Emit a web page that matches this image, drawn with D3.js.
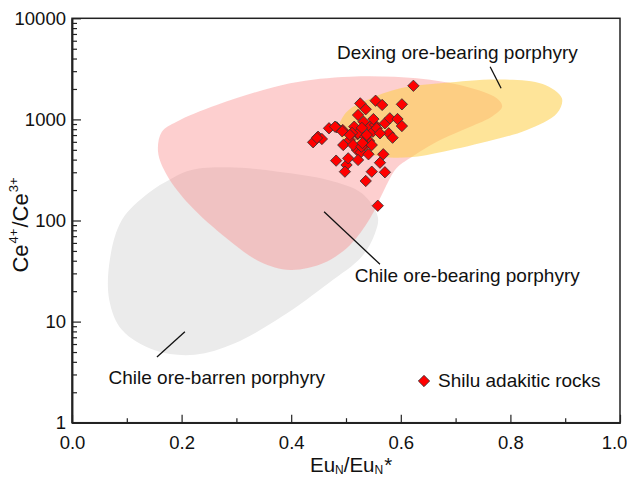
<!DOCTYPE html>
<html><head><meta charset="utf-8">
<script src="https://cdn.jsdelivr.net/npm/d3@7"></script>
<style>
html,body{margin:0;padding:0;background:#fff;}
text{font-family:"Liberation Sans",Arial,Helvetica,sans-serif;fill:#111;}
</style></head>
<body>
<svg id="chart" width="627" height="478"></svg>
<script>
// ---- data ----
const xTicks = [0.0, 0.2, 0.4, 0.6, 0.8, 1.0];
const xMinorTicks = [0.1, 0.3, 0.5, 0.7, 0.9];
const yTicks = [1, 10, 100, 1000, 10000];
const yMinorTicks = [2,3,4,5,6,7,8,9,20,30,40,50,60,70,80,90,200,300,400,500,600,700,800,900,2000,3000,4000,5000,6000,7000,8000,9000];

// Shilu adakitic rocks: Eu_N/Eu_N* and Ce4+/Ce3+
const euRatio = [0.623,0.526,0.536,0.554,0.566,0.602,0.522,0.469,0.449,0.440,0.456,0.494,0.495,0.507,0.515,0.521,0.532,0.544,0.553,0.549,0.542,0.535,0.520,0.527,0.541,0.571,0.580,0.594,0.602,0.578,0.585,0.568,0.562,0.571,0.547,0.536,0.482,0.501,0.498,0.504,0.558,0.522,0.535,0.513,0.528,0.556,0.483,0.493,0.550,0.529,0.538,0.511,0.547,0.522,0.530,0.447,0.480,0.507,0.562];
const ceRatio = [2150,1440,1260,1530,1390,1410,1105,817,674,594,640,785,558,626,847,713,949,847,881,756,611,558,498,473,452,915,1025,1009,860,729,659,452,373,300,304,246,391,354,304,412,140,729,674,558,537,817,835,763,1007,824,702,735,558,397,584,655,847,702,728];

// Field outlines (Eu_N/Eu_N*, Ce4+/Ce3+)
const barrenField = [[0.218,316],[0.285,336],[0.376,304],[0.467,252],[0.529,186],[0.558,109],[0.553,75],[0.529,44],[0.468,24],[0.383,11.2],[0.297,6.1],[0.224,4.7],[0.151,5.2],[0.091,8.3],[0.068,16.4],[0.069,40.6],[0.091,101],[0.139,186],[0.182,261]];
const chileBearingField = [[0.164,755],[0.191,949],[0.264,1388],[0.398,2275],[0.507,2645],[0.629,2550],[0.720,2105],[0.775,1618],[0.785,1342],[0.768,1081],[0.726,841],[0.672,625],[0.617,415],[0.592,328],[0.568,193],[0.544,105],[0.507,57],[0.458,37.7],[0.398,32.4],[0.343,39.1],[0.282,66.7],[0.215,142],[0.173,282],[0.157,479]];
const dexingField = [[0.486,785],[0.501,1183],[0.538,1556],[0.599,2032],[0.677,2290],[0.781,2483],[0.859,2239],[0.894,1618],[0.885,1149],[0.830,785],[0.768,625],[0.677,480],[0.617,422],[0.568,425],[0.538,465],[0.501,584]];

const labels = [
  {text:"Dexing ore-bearing porphyry", at:[0.4836,4000], line:[[0.763,3320],[0.783,2032]]},
  {text:"Chile ore-bearing porphyry", at:[0.516,24.9], line:[[0.460,122],[0.562,36.9]]},
  {text:"Chile ore-barren porphyry", at:[0.0666,2.44], line:[[0.206,7.94],[0.155,4.47]]}
];
const legendLabel = "Shilu adakitic rocks";

// ---- layout ----
const L = 72, R = 620, T = 18.3, B = 422.7;
const svg = d3.select("#chart");
const x = d3.scaleLinear().domain([0,1]).range([L,R]);
const y = d3.scaleLog().domain([1,10000]).range([B,T]);

// fields
const area = d3.line().x(d=>x(d[0])).y(d=>y(d[1])).curve(d3.curveCatmullRomClosed.alpha(0.5));
svg.append("path").attr("d", area(barrenField)).attr("fill","#ebebeb");
svg.append("path").attr("d", area(chileBearingField)).attr("fill","rgba(250,130,130,0.38)");
svg.append("path").attr("d", area(dexingField)).attr("fill","rgba(253,205,70,0.55)");

// label lines and texts
labels.forEach(l=>{
  svg.append("line").attr("x1",x(l.line[0][0])).attr("y1",y(l.line[0][1]))
    .attr("x2",x(l.line[1][0])).attr("y2",y(l.line[1][1]))
    .attr("stroke","#111").attr("stroke-width",1.3);
  svg.append("text").attr("x",x(l.at[0])).attr("y",y(l.at[1]))
    .attr("font-size",19).text(l.text);
});

// points
const diamond = d3.symbol().type(d3.symbolSquare).size(64);
svg.append("g").selectAll("path").data(euRatio.map((e,i)=>[e,ceRatio[i]])).join("path")
  .attr("d", diamond)
  .attr("transform", d=>`translate(${x(d[0])},${y(d[1])}) rotate(45)`)
  .attr("fill","#ff0000").attr("stroke","#333").attr("stroke-width",0.8);

// legend
svg.append("path").attr("d", diamond).attr("transform","translate(424,381) rotate(45)")
  .attr("fill","#ff0000").attr("stroke","#333").attr("stroke-width",0.8);
svg.append("text").attr("x",438).attr("y",387.3).attr("font-size",19).text(legendLabel);

// frame
svg.append("rect").attr("x",L).attr("y",T).attr("width",R-L).attr("height",B-T)
  .attr("fill","none").attr("stroke","#222").attr("stroke-width",1.5);

// axes
const fmtX = d3.format(".1f");
const gx = svg.append("g").attr("transform",`translate(0,${B})`)
  .call(d3.axisBottom(x).tickValues(xTicks).tickFormat(fmtX).tickSize(-8).tickSizeOuter(0).tickPadding(13.5));
const gxm = svg.append("g").attr("transform",`translate(0,${B})`)
  .call(d3.axisBottom(x).tickValues(xMinorTicks).tickFormat("").tickSize(-4.5).tickSizeOuter(0));
const gy = svg.append("g").attr("transform",`translate(${L},0)`)
  .call(d3.axisLeft(y).tickValues(yTicks).tickFormat(d3.format("d")).tickSize(-9).tickSizeOuter(0).tickPadding(6));
const gym = svg.append("g").attr("transform",`translate(${L},0)`)
  .call(d3.axisLeft(y).tickValues(yMinorTicks).tickFormat("").tickSize(-5).tickSizeOuter(0));
[gx,gxm,gy,gym].forEach(g=>{
  g.selectAll(".domain").attr("stroke","#222").attr("stroke-width",1.5);
  g.selectAll(".tick line").attr("stroke","#222").attr("stroke-width",1.2);
  g.selectAll("text").attr("font-family","Liberation Sans, Arial, sans-serif").attr("font-size",18.5).attr("fill","#111");
});
// keep the last x label inside the picture, as in the reference
gx.selectAll(".tick").filter(d=>d===1).select("text").attr("dx",-6);

// axis titles
const xt = svg.append("text").attr("x",310).attr("y",471.7).attr("font-size",20.5);
xt.append("tspan").text("Eu");
xt.append("tspan").attr("font-size",12).attr("dy",2).text("N");
xt.append("tspan").attr("dy",-2).text("/Eu");
xt.append("tspan").attr("font-size",12).attr("dy",2).text("N");
xt.append("tspan").attr("dy",-2).attr("dx",1).text("*");

const yt = svg.append("text").attr("transform","translate(28,225) rotate(-90)")
  .attr("text-anchor","middle").attr("font-size",22);
yt.append("tspan").text("Ce");
yt.append("tspan").attr("font-size",13).attr("dy",-10).attr("dx",1).text("4+");
yt.append("tspan").attr("dy",10).attr("dx",1).text("/Ce");
yt.append("tspan").attr("font-size",13).attr("dy",-10).attr("dx",1).text("3+");
</script>
</body></html>
